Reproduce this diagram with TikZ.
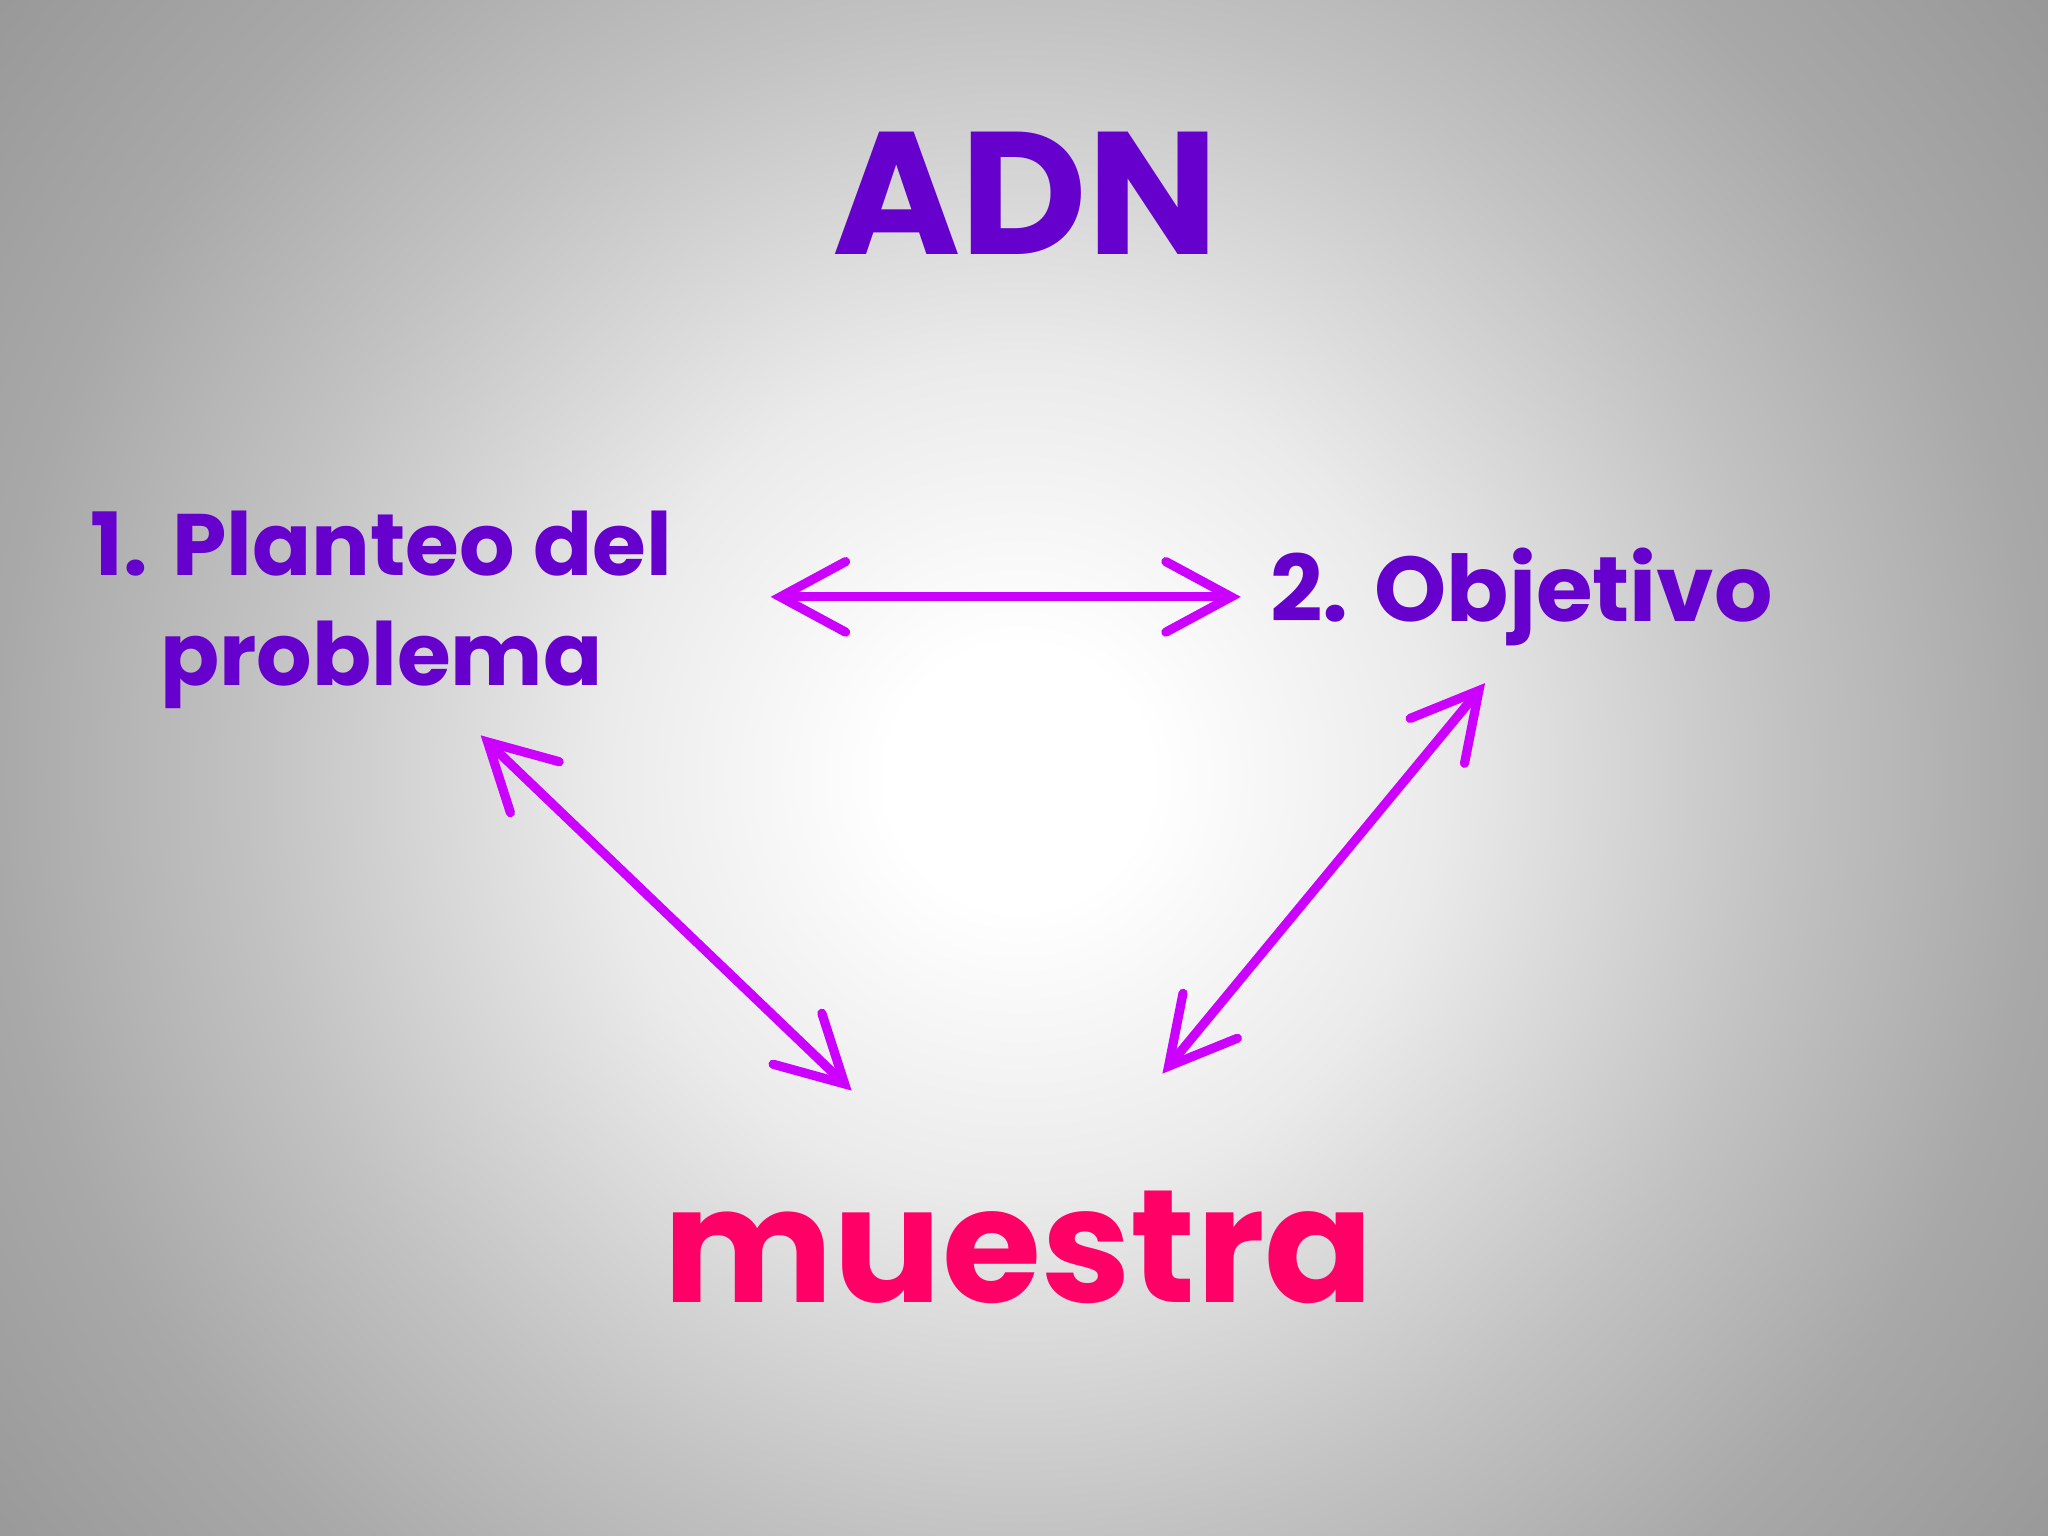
\documentclass[tikz,border=0pt]{standalone}
\usepackage{fontspec}
\setmainfont{Poppins}
\usepackage{tikz}
\usetikzlibrary{arrows.meta,calc}
\definecolor{adnpurple}{RGB}{102,0,204}
\definecolor{adnmagenta}{RGB}{204,0,255}
\definecolor{adnpink}{RGB}{255,0,102}
\pgfdeclareradialshading{slideglow}{\pgfpoint{0bp}{0bp}}{color(0bp)=(white); color(2.5bp)=(white); color(8bp)=(black!8); color(14.7bp)=(black!24); color(19.6bp)=(black!34); color(24.5bp)=(black!40); color(50bp)=(black!40)}
\tikzstyle{title} = [font=\fontsize{38}{40}\selectfont\bfseries, text=adnpurple, anchor=base]
\tikzstyle{point} = [font=\fontsize{19}{24}\selectfont\bfseries, text=adnpurple, align=center]
\tikzstyle{sample} = [font=\fontsize{35}{40}\selectfont\bfseries, text=adnpink, anchor=base]
\tikzstyle{link} = [line width=2pt, color=adnmagenta, {Straight Barb[length=5mm,width=5.4mm,line cap=round,line join=miter]}-{Straight Barb[length=5mm,width=5.4mm,line cap=round,line join=miter]}]

\begin{document}
\begin{tikzpicture}
    % Slide background
    \useasboundingbox (0,0) rectangle (15.68,11.76);
    \begin{scope}
        \clip (0,0) rectangle (15.68,11.76);
        \shade[shading=slideglow] (7.8,5.81) circle (10);
    \end{scope}

    % Texts
    \node[title] (adn) at (7.85,9.81) {ADN};
    \node[point] (plant) at (2.92,7.09) {1. Planteo del\\problema};
    \node[point, font=\fontsize{20}{24}\selectfont\bfseries, anchor=base] (obj) at (11.65,7.0) {2. Objetivo};
    \node[sample] (muestra) at (7.8,1.79) {muestra};

    % Arrows
    \draw[link] ($(plant)+(2.98,0.10)$) -- ($(obj.base)+(-2.15,0.19)$);
    \draw[link] ($(plant)+(0.76,-0.96)$) -- ($(muestra.base)+(-1.28,1.62)$);
    \draw[link] ($(obj.base)+(-0.28,-0.47)$) -- ($(muestra.base)+(1.10,1.75)$);
\end{tikzpicture}
\end{document}
